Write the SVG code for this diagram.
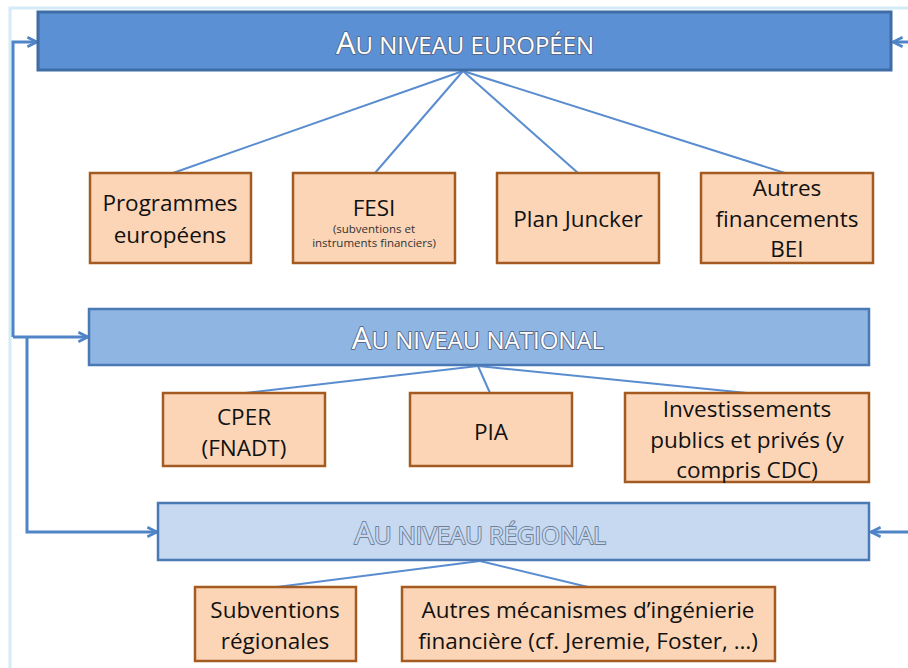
<svg xmlns="http://www.w3.org/2000/svg" width="908" height="668" viewBox="0 0 908 668">
<defs>
<style>
.frame{fill:none;stroke:#d4ebf8;stroke-width:3}
.lvl1{fill:#5b91d4;stroke:#3e6ca6;stroke-width:3}
.lvl2{fill:#8fb5e3;stroke:#4a79b3;stroke-width:2.5}
.lvl3{fill:#c6d9f1;stroke:#4a79b3;stroke-width:2.5}
.box{fill:#fbd5b6;stroke:#a35b22;stroke-width:2.5}
.t{font-family:"Open Sans","Liberation Sans",sans-serif;font-size:22.5px;fill:#111;text-anchor:middle}
.s{font-size:11.5px;fill:#333}
.h{font-family:"Open Sans","Liberation Sans",sans-serif;text-anchor:middle;paint-order:stroke;stroke-linejoin:round}
.hw{fill:#ffffff;stroke:#56698a;stroke-width:1.8}
.hr{fill:#c6d9f1;stroke:#6f7f94;stroke-width:1.8}
.c{fill:none;stroke:#5a8dd0;stroke-width:2}
.a{fill:none;stroke:#4f84c6;stroke-width:3}
</style>
<marker id="arr" viewBox="0 0 10 10" refX="9" refY="5" markerWidth="4" markerHeight="4" orient="auto" markerUnits="strokeWidth">
<path d="M1,1 L9,5 L1,9" fill="none" stroke="#4f84c6" stroke-width="2.2"/>
</marker>
</defs>
<rect width="908" height="668" fill="#ffffff"/>
<path class="frame" d="M10,668 V8 H908"/>
<g id="connectors">
<line class="c" x1="463" y1="71" x2="173" y2="173"/>
<line class="c" x1="463" y1="71" x2="375" y2="173"/>
<line class="c" x1="463" y1="71" x2="578" y2="173"/>
<line class="c" x1="463" y1="71" x2="785" y2="173"/>
<line class="c" x1="478" y1="366" x2="245" y2="393"/>
<line class="c" x1="478" y1="366" x2="490" y2="393"/>
<line class="c" x1="478" y1="366" x2="747" y2="393"/>
<line class="c" x1="480" y1="561" x2="277" y2="587"/>
<line class="c" x1="480" y1="561" x2="588" y2="587"/>
<path class="a" d="M13,337 V42 H37" marker-end="url(#arr)"/>
<path class="a" d="M13,337 H88" marker-end="url(#arr)"/>
<path class="a" d="M27,337 V532 H157" marker-end="url(#arr)"/>
<path class="a" d="M908,42 H893" marker-end="url(#arr)"/>
<path class="a" d="M908,532 H871" marker-end="url(#arr)"/>
</g>
<g id="europe">
<rect class="lvl1" x="38" y="12" width="853" height="58"/>
<text class="h hw" x="465" y="54" font-size="24"><tspan font-size="31">A</tspan>U NIVEAU EUROPÉEN</text>
</g>
<g id="programmes">
<rect class="box" x="90" y="173" width="161" height="90"/>
<text class="t" x="170" y="211">Programmes</text>
<text class="t" x="170" y="243">européens</text>
</g>
<g id="fesi">
<rect class="box" x="293" y="173" width="162" height="90"/>
<text class="t" x="374" y="216">FESI</text>
<text class="t s" x="374" y="233">(subventions et</text>
<text class="t s" x="374" y="247">instruments financiers)</text>
</g>
<g id="juncker">
<rect class="box" x="497" y="173" width="162" height="90"/>
<text class="t" x="578" y="227">Plan Juncker</text>
</g>
<g id="bei">
<rect class="box" x="701" y="173" width="172" height="90"/>
<text class="t" x="787" y="196">Autres</text>
<text class="t" x="787" y="227">financements</text>
<text class="t" x="787" y="257">BEI</text>
</g>
<g id="national">
<rect class="lvl2" x="89" y="309" width="780" height="56"/>
<text class="h hw" x="478" y="349" font-size="24"><tspan font-size="31">A</tspan>U NIVEAU NATIONAL</text>
</g>
<g id="cper">
<rect class="box" x="163" y="393" width="162" height="73"/>
<text class="t" x="244" y="425">CPER</text>
<text class="t" x="244" y="456">(FNADT)</text>
</g>
<g id="pia">
<rect class="box" x="410" y="393" width="162" height="73"/>
<text class="t" x="491" y="440">PIA</text>
</g>
<g id="invest">
<rect class="box" x="625" y="393" width="244" height="89"/>
<text class="t" x="747" y="417">Investissements</text>
<text class="t" x="747" y="448">publics et privés (y</text>
<text class="t" x="747" y="478">compris CDC)</text>
</g>
<g id="regional">
<rect class="lvl3" x="158" y="503" width="711" height="57"/>
<text class="h hr" x="480" y="544" font-size="24"><tspan font-size="31">A</tspan>U NIVEAU RÉGIONAL</text>
</g>
<g id="subventions">
<rect class="box" x="195" y="587" width="161" height="74"/>
<text class="t" x="275" y="618">Subventions</text>
<text class="t" x="275" y="649">régionales</text>
</g>
<g id="mecanismes">
<rect class="box" x="402" y="587" width="373" height="74"/>
<text class="t" x="588" y="618">Autres mécanismes d’ingénierie</text>
<text class="t" x="588" y="649">financière (cf. Jeremie, Foster, …)</text>
</g>
</svg>
